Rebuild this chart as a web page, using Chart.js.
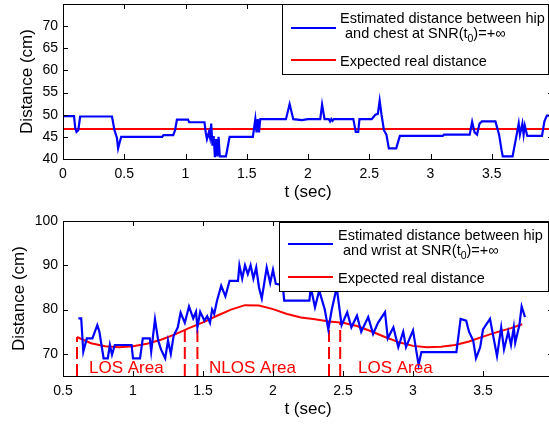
<!DOCTYPE html>
<html><head><meta charset="utf-8">
<script src="https://cdn.jsdelivr.net/npm/chart.js@4/dist/chart.umd.min.js"></script>
<style>
html,body{margin:0;padding:0;background:#fff;overflow:hidden;width:549px;height:426px;}
#wrap{position:relative;width:560px;height:426px;}
canvas{position:absolute;left:0;}
</style></head><body>
<div id="wrap">
<canvas id="c1" width="560" height="213" style="top:0"></canvas>
<canvas id="c2" width="560" height="213" style="top:213px"></canvas>
</div>
<script>
// ---------- data: top panel (hip - chest) ----------
const chestTime = [0,0.09,0.10,0.11,0.125,0.14,0.40,0.42,0.44,0.45,0.46,0.475,0.81,0.82,0.90,0.915,0.93,1.02,1.03,1.155,1.165,1.175,1.19,1.20,1.21,1.22,1.23,1.24,1.25,1.26,1.27,1.28,1.33,1.36,1.55,1.56,1.57,1.58,1.59,1.60,1.61,1.62,1.82,1.85,1.88,1.95,2.0,2.10,2.115,2.135,2.17,2.18,2.19,2.20,2.21,2.37,2.39,2.41,2.42,2.52,2.55,2.57,2.585,2.60,2.62,2.64,2.66,2.72,2.75,3.10,3.11,3.32,3.34,3.36,3.38,3.40,3.42,3.53,3.56,3.58,3.59,3.67,3.70,3.72,3.73,3.75,3.76,3.77,3.79,3.91,3.93,3.95,4.0];
const chestDist = [49.7,49.7,47,46.1,46.5,49.6,49.6,46.5,44.8,42.4,43.5,45.0,45.0,45.4,45.4,46.5,48.9,48.9,48.3,48.3,46,44.5,46,44.8,48,43,45.2,40.4,44.5,40.6,45,40.6,40.6,45,45,47,49,46,49,46,49,49,49,52.4,49,48.8,49,49,52.3,49,49,48.5,49,48.6,49,49,46.1,46.1,49,49,50,50.2,53.2,50,46.5,45.5,42.4,42.4,45.2,45.2,45.5,45.5,48.4,46,45.5,48,48.5,48.5,45.5,42,40.6,40.6,45,48,45.5,48,45.5,47.5,45.2,45.2,48.5,49.8,49.8];
const chestExpectedTime = [0, 4];
const chestExpectedDist = [46.8, 46.8];
const topXTicks = [0,0.5,1,1.5,2,2.5,3,3.5,4];
const topYTicks = [40,45,50,55,60,65,70];

// ---------- data: bottom panel (hip - wrist) ----------
const wristTime = [0.61,0.63,0.645,0.67,0.71,0.745,0.76,0.79,0.82,0.835,0.85,0.87,0.93,0.99,1.00,1.05,1.07,1.12,1.13,1.157,1.18,1.20,1.23,1.25,1.27,1.29,1.32,1.34,1.37,1.40,1.43,1.45,1.46,1.48,1.51,1.53,1.55,1.565,1.58,1.60,1.63,1.66,1.69,1.75,1.76,1.78,1.80,1.82,1.84,1.86,1.88,1.90,1.92,1.955,1.98,2.0,2.02,2.07,2.08,2.26,2.27,2.30,2.33,2.37,2.395,2.42,2.455,2.49,2.53,2.56,2.60,2.63,2.68,2.715,2.75,2.80,2.82,2.86,2.895,2.93,2.95,3.0,3.04,3.06,3.31,3.34,3.38,3.40,3.43,3.45,3.48,3.50,3.55,3.60,3.63,3.65,3.68,3.70,3.72,3.73,3.76,3.776,3.80];
const wristDist = [78,78,70.5,73.5,73.5,76.5,75,69,69,72,69.8,72,72,72,69,69,73.5,73.5,70.5,77.8,73,71,69,73,70,74,76,79.3,77,80.7,78,79.5,76,79.5,77.5,78.5,77,80,79,82,85.4,83,86.5,86.5,90,87,90,88,90,87,89.5,85,82.5,89.5,86,89,85.8,85.5,82,82,85,80.5,84.3,80,75.5,80,85,76.5,79.4,76,78.6,75,78.3,74.5,77,79.4,73.5,76,71.5,75,71.5,75.3,67.5,70.4,70.4,77.9,77.5,75,73,69,71.5,75.5,77.9,69.5,76,71,75,72,76,72.5,76.5,80.7,78.3];
const wristExpectedTime = [0.6,0.7,0.8,0.9,1.0,1.1,1.2,1.3,1.4,1.5,1.6,1.7,1.8,1.9,2.0,2.1,2.2,2.3,2.4,2.5,2.6,2.7,2.8,2.9,3.0,3.1,3.2,3.3,3.4,3.5,3.6,3.7,3.78];
const wristExpectedDist = [73.8,72.4,71.7,71.5,71.7,72.3,73.2,74.4,75.8,77.1,78.6,80,81,80.9,80.1,79,78.2,77.8,77.3,77,76.3,75.1,73.8,72.6,71.8,71.5,71.6,72,72.8,73.9,74.9,75.8,76.7];
const regionTime = [0.6, 1.37, 1.46, 2.40, 2.48];
const regionTop = [73.8, 75.6, 76.6, 77.3, 77.0];
const regionLabels = ['LOS Area', 'NLOS Area', 'LOS Area'];
const regionLabelTime = [0.686, 1.543, 2.607];
const bottomXTicks = [0.5,1,1.5,2,2.5,3,3.5,4];
const bottomYTicks = [70,80,90,100];

// ---------- rendering ----------
const FONT = "'Liberation Sans', Arial, Helvetica, sans-serif";
Chart.defaults.font.family = FONT;
Chart.defaults.color = '#000';
const BLUE = '#0000ff', RED = '#ff0000';

function pairs(xs, ys) { return xs.map((x, i) => ({x: x, y: ys[i]})); }

function decorPlugin(cfg) {
  return {
    id: 'decor',
    afterDatasetsDraw(chart) {
      const ctx = chart.ctx, a = chart.chartArea;
      const xs = chart.scales.x, ys = chart.scales.y;
      ctx.save();
      if (cfg.regions) {
        ctx.fillStyle = RED;
        ctx.font = '17px ' + FONT;
        ctx.textAlign = 'left';
        ctx.textBaseline = 'alphabetic';
        regionLabels.forEach((t, i) => {
          ctx.fillText(t, xs.getPixelForValue(regionLabelTime[i]), ys.getPixelForValue(65.6));
        });
      }
      ctx.strokeStyle = '#000';
      ctx.lineWidth = 1;
      ctx.beginPath();
      xs.ticks.forEach(t => {
        const p = Math.round(xs.getPixelForValue(t.value)) + 0.5;
        ctx.moveTo(p, a.bottom); ctx.lineTo(p, a.bottom - 5);
        ctx.moveTo(p, a.top); ctx.lineTo(p, a.top + 5);
      });
      ys.ticks.forEach(t => {
        const p = Math.round(ys.getPixelForValue(t.value)) + 0.5;
        ctx.moveTo(a.left, p); ctx.lineTo(a.left + 5, p);
        ctx.moveTo(a.right, p); ctx.lineTo(a.right - 5, p);
      });
      ctx.stroke();
      ctx.strokeRect(a.left + 0.5, a.top + 0.5, a.right - a.left, a.bottom - a.top);
      const L = cfg.legend;
      ctx.fillStyle = '#fff';
      ctx.fillRect(L.x, L.y, L.w, L.h);
      ctx.strokeRect(L.x + 0.5, L.y + 0.5, L.w, L.h);
      ctx.lineWidth = 2;
      ctx.strokeStyle = BLUE;
      ctx.beginPath(); ctx.moveTo(L.sx0, L.blueY); ctx.lineTo(L.sx1, L.blueY); ctx.stroke();
      ctx.strokeStyle = RED;
      ctx.beginPath(); ctx.moveTo(L.sx0, L.redY); ctx.lineTo(L.sx1, L.redY); ctx.stroke();
      ctx.fillStyle = '#000';
      ctx.textAlign = 'left';
      ctx.textBaseline = 'alphabetic';
      ctx.font = '14.5px ' + FONT;
      ctx.fillText('Estimated distance between hip', L.tx, L.b1);
      const s = ' and ' + cfg.part + ' at SNR(t';
      ctx.fillText(s, L.tx + 1, L.b2);
      const w = ctx.measureText(s).width;
      ctx.font = '10.5px ' + FONT;
      ctx.fillText('0', L.tx + 1 + w, L.b2 + 4);
      const w0 = ctx.measureText('0').width;
      ctx.font = '14.5px ' + FONT;
      ctx.fillText(')=+\u221E', L.tx + 1 + w + w0, L.b2);
      ctx.fillText('Expected real distance', L.tx, L.b3);
      ctx.restore();
    }
  };
}

function makeChart(id, cfg) {
  return new Chart(document.getElementById(id), {
    type: 'line',
    data: {datasets: cfg.datasets},
    options: {
      responsive: false,
      animation: false,
      events: [],
      layout: {padding: cfg.padding},
      plugins: {legend: {display: false}, tooltip: {enabled: false}},
      elements: {point: {radius: 0}, line: {tension: 0, borderCapStyle: 'butt', borderJoinStyle: 'miter'}},
      scales: {
        x: {
          type: 'linear', min: cfg.xMin, max: cfg.xMax,
          grid: {display: false, drawTicks: false}, border: {display: false},
          ticks: {padding: 7, font: {size: 14}, color: '#000', maxRotation: 0, autoSkip: false,
                  callback: v => String(v)},
          afterBuildTicks: s => { s.ticks = cfg.xTicks.map(v => ({value: v})); },
          afterFit: s => { s.height = cfg.xH; s.paddingLeft = 0; s.paddingRight = 0; s.paddingTop = 0; s.paddingBottom = 0; },
          title: {display: true, text: 't (sec)', font: {size: 17}, color: '#000', padding: {top: 0, bottom: cfg.xTitlePad}}
        },
        y: {
          type: 'linear', min: cfg.yMin, max: cfg.yMax,
          grid: {display: false, drawTicks: false}, border: {display: false},
          ticks: {padding: 5, font: {size: 14}, color: '#000', autoSkip: false, callback: v => String(v)},
          afterBuildTicks: s => { s.ticks = cfg.yTicks.map(v => ({value: v})); },
          afterFit: s => { s.width = 63; s.paddingLeft = 0; s.paddingRight = 0; s.paddingTop = 0; s.paddingBottom = 0; },
          title: {display: true, text: 'Distance (cm)', font: {size: 17}, color: '#000', padding: {top: cfg.yTitlePad, bottom: 0}}
        }
      }
    },
    plugins: [decorPlugin(cfg)]
  });
}

makeChart('c1', {
  xMin: 0, xMax: 4, yMin: 40, yMax: 75,
  xTicks: topXTicks, yTicks: topYTicks,
  padding: {top: 4, right: 7, bottom: 0, left: 0},
  xH: 54, xTitlePad: 10, yTitlePad: 17,
  part: 'chest',
  legend: {x: 282, y: 4, w: 266, h: 70, sx0: 291, sx1: 336, blueY: 28, redY: 60, tx: 340, b1: 23, b2: 38, b3: 66},
  datasets: [
    {data: pairs(chestTime, chestDist), borderColor: BLUE, borderWidth: 2.2},
    {data: pairs(chestExpectedTime, chestExpectedDist), borderColor: RED, borderWidth: 2}
  ]
});

const regionSets = regionTime.map((t, i) => ({
  data: pairs([t, t], [65, regionTop[i]]), borderColor: RED, borderWidth: 2, borderDash: [12, 5]
}));

makeChart('c2', {
  xMin: 0.5, xMax: 4, yMin: 65, yMax: 100,
  xTicks: bottomXTicks, yTicks: bottomYTicks,
  padding: {top: 8, right: 7, bottom: 0, left: 0},
  xH: 50, xTitlePad: 6, yTitlePad: 9,
  part: 'wrist', regions: true,
  legend: {x: 279, y: 9, w: 269, h: 69, sx0: 288, sx1: 333, blueY: 31, redY: 64, tx: 338, b1: 27, b2: 42, b3: 70},
  datasets: [
    {data: pairs(wristTime, wristDist), borderColor: BLUE, borderWidth: 2.2},
    {data: pairs(wristExpectedTime, wristExpectedDist), borderColor: RED, borderWidth: 2},
    ...regionSets
  ]
});
</script>
</body></html>
